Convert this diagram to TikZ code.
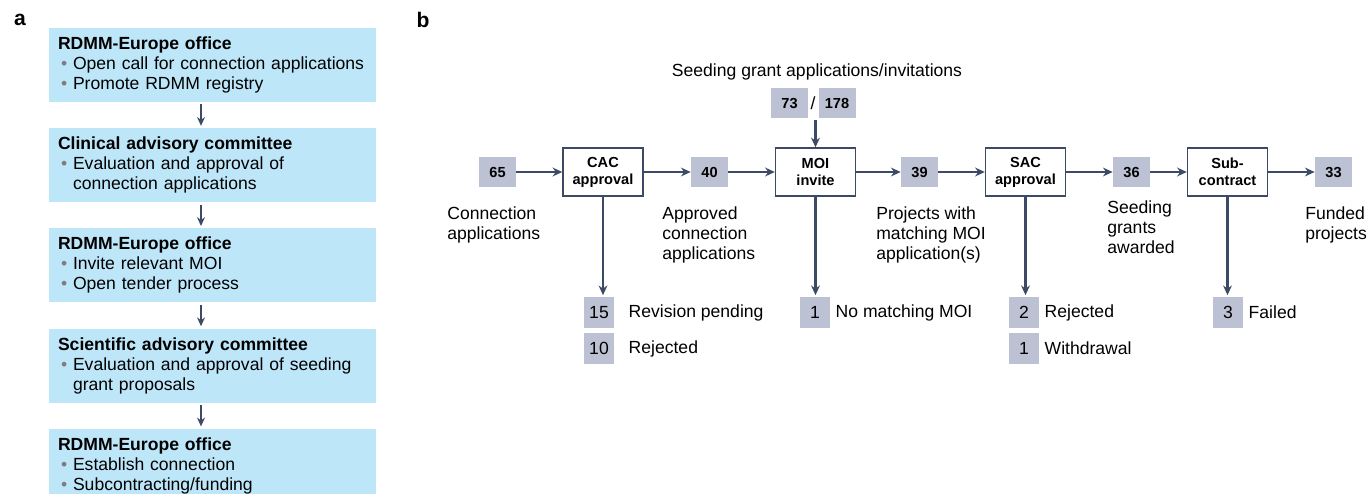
\documentclass[tikz,border=0pt]{standalone}
\usepackage{fontspec}
\setmainfont{Liberation Sans}
\usetikzlibrary{positioning}
\usetikzlibrary{arrows.meta}
\definecolor{panelblue}{RGB}{190,230,249}
\definecolor{countgray}{RGB}{188,194,212}
\definecolor{slate}{RGB}{61,74,102}
\definecolor{dotgray}{RGB}{125,125,125}
\tikzstyle{every flow} = []
\tikzstyle{flow} = [>={Stealth[length=5.5pt,width=5pt]}, ->, draw=slate, line width=1.4pt, every flow]
\tikzstyle{office} = [fill=panelblue, minimum width=6.54cm, minimum height=1.48cm, text width=6.18cm, inner xsep=0.18cm, align=left, font=\fontsize{10}{11.4}\selectfont]
\tikzstyle{stage} = [draw=slate, line width=0.8pt, fill=white, minimum width=1.6cm, minimum height=0.96cm, inner sep=0pt, align=center, font=\bfseries\fontsize{8.3}{9.7}\selectfont]
\tikzstyle{count} = [fill=countgray, minimum width=0.74cm, minimum height=0.6cm, inner sep=0pt, font=\bfseries\fontsize{8.3}{9.7}\selectfont]
\tikzstyle{loss} = [fill=countgray, minimum width=0.6cm, minimum height=0.62cm, inner sep=0pt, font=\fontsize{10}{11}\selectfont]
\tikzstyle{note} = [align=left, inner sep=0pt, font=\fontsize{10}{11.4}\selectfont]
\newcommand{\blt}{\hspace*{0.06cm}\makebox[0.24cm][l]{\textcolor{dotgray}{\textbullet}}}
\newcommand{\ind}{\hspace*{0.3cm}}

\begin{document}
\begin{tikzpicture}[x=0.02cm, y=-0.02cm, node distance=0.51cm]
  \useasboundingbox (0,0) rectangle (1367,494);
  \clip (0,0) rectangle (1367,494);

  % panel a
  \node[font=\bfseries\fontsize{12}{14}\selectfont] (pa) at (20,20) {a};
  \node[office] (office1) at (212.5,65) {\textbf{RDMM-Europe office}\\ \blt Open call for connection applications\\ \blt Promote RDMM registry};
  \node[office, below=of office1] (office2) {\textbf{Clinical advisory committee}\\ \blt Evaluation and approval of\\ \ind connection applications};
  \node[office, below=of office2] (office3) {\textbf{RDMM-Europe office}\\ \blt Invite relevant MOI\\ \blt Open tender process};
  \node[office, below=of office3] (office4) {\textbf{Scientific advisory committee}\\ \blt Evaluation and approval of seeding\\ \ind grant proposals};
  \node[office, below=of office4] (office5) {\textbf{RDMM-Europe office}\\ \blt Establish connection\\ \blt Subcontracting/funding};
  \foreach \a/\b in {office1/office2, office2/office3, office3/office4, office4/office5}
    \draw[flow, line width=1pt, >={Stealth[length=5pt,width=4.5pt]}, shorten <=0.04cm, shorten >=0.04cm]
      ([xshift=-0.23cm]\a.south) -- ([xshift=-0.23cm]\b.north);

  % panel b
  \node[font=\bfseries\fontsize{12}{14}\selectfont] (pb) at (423,20) {b};
  \node[count] (c65) at (497.5,172) {65};
  \node[stage] (cac) at (603,172) {CAC\\approval};
  \node[count] (c40) at (709.5,172) {40};
  \node[stage] (moi) at (815.5,172) {MOI\\invite};
  \node[count] (c39) at (919.5,172) {39};
  \node[stage] (sac) at (1025.5,172) {SAC\\approval};
  \node[count] (c36) at (1131.5,172) {36};
  \node[stage] (sub) at (1227.5,172) {Sub-\\contract};
  \node[count] (c33) at (1333.5,172) {33};

  \node[note] (seed) at (817,72) {Seeding grant applications/invitations};
  \node[count] (c73) at (789.5,103) {73};
  \node[count] (c178) at (837,103) {178};
  \node[font=\fontsize{10}{12}\selectfont] (slash) at (813,103) {/};

  \draw[flow] (c65) -- (cac);
  \draw[flow] (cac) -- (c40);
  \draw[flow] (c40) -- (moi);
  \draw[flow] (moi) -- (c39);
  \draw[flow] (c39) -- (sac);
  \draw[flow] (sac) -- (c36);
  \draw[flow] (c36) -- (sub);
  \draw[flow] (sub) -- (c33);
  \draw[flow] (moi.north |- c73.south) ++(0,2) -- (moi.north);

  \node[note, anchor=north west] (lconn) at (447,206.5) {Connection\\applications};
  \node[note, anchor=north west] (lappr) at (662,206.5) {Approved\\connection\\applications};
  \node[note, anchor=north west] (lproj) at (876,206.5) {Projects with\\matching MOI\\application(s)};
  \node[note, anchor=north west] (lseed) at (1107,200.5) {Seeding\\grants\\awarded};
  \node[note, anchor=north west] (lfund) at (1305,206.5) {Funded\\projects};

  % losses
  \node[loss] (r15) at (599,312.5) {15};
  \node[note, right=0.28cm of r15] (t15) {Revision pending};
  \node[loss] (r10) at (599,348.5) {10};
  \node[note, right=0.28cm of r10] (t10) {Rejected};
  \node[loss] (r1) at (815,312.5) {1};
  \node[note, right=0.1cm of r1] (t1) {No matching MOI};
  \node[loss] (r2) at (1024,312.5) {2};
  \node[note, right=0.1cm of r2] (t2) {Rejected};
  \node[loss] (rw) at (1024,348.5) {1};
  \node[note, right=0.1cm of rw] (tw) {Withdrawal};
  \node[loss] (r3) at (1228,312.5) {3};
  \node[note, right=0.1cm of r3] (t3) {Failed};

  \draw[flow, shorten >=0.03cm] (cac) -- (cac |- r15.north);
  \draw[flow, shorten >=0.03cm] (moi) -- (moi |- r1.north);
  \draw[flow, shorten >=0.03cm] (sac) -- (sac |- r2.north);
  \draw[flow, shorten >=0.03cm] (sub) -- (sub |- r3.north);
\end{tikzpicture}
\end{document}
